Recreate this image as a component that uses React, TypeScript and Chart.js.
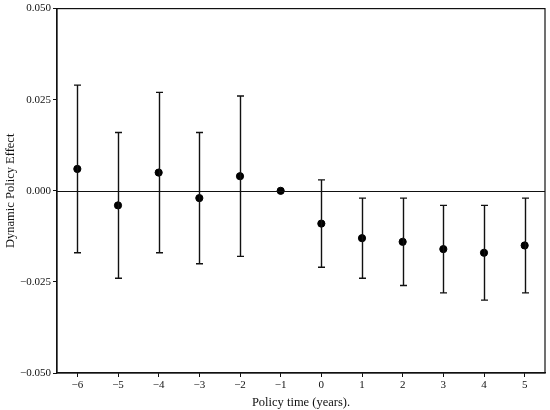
import React, { useEffect, useRef } from "react";
import { Chart, registerables } from "chart.js";

Chart.register(...registerables);

const periods = [-6, -5, -4, -3, -2, -1, 0, 1, 2, 3, 4, 5];
const estimates = [0.006, -0.004, 0.005, -0.002, 0.004, 0.0, -0.009, -0.013, -0.014, -0.016, -0.017, -0.015];
const upperBounds = [0.029, 0.016, 0.027, 0.016, 0.026, null, 0.003, -0.002, -0.002, -0.004, -0.004, -0.002];
const lowerBounds = [-0.017, -0.024, -0.017, -0.02, -0.018, null, -0.021, -0.024, -0.026, -0.028, -0.03, -0.028];
const yTicks = [-0.05, -0.025, 0, 0.025, 0.05];
const xTicks = periods;

const FONT = "'Liberation Serif', 'Times New Roman', serif";
const INK = "#111";

const fmtMinus = (s: string) => s.replace("-", "\u2212");

const errorBarPlugin = {
  id: "errorBars",
  afterDatasetsDraw(chart: any) {
    const { ctx, chartArea, scales } = chart;
    const xs = scales.x;
    const ys = scales.y;
    ctx.save();
    // frame
    ctx.strokeStyle = INK;
    ctx.lineWidth = 1.2;
    ctx.strokeRect(chartArea.left, chartArea.top, chartArea.right - chartArea.left, chartArea.bottom - chartArea.top);
    // zero line
    const y0 = Math.round(ys.getPixelForValue(0)) + 0.5;
    ctx.lineWidth = 1.2;
    ctx.beginPath();
    ctx.moveTo(chartArea.left, y0);
    ctx.lineTo(chartArea.right, y0);
    ctx.stroke();
    // error bars
    ctx.lineWidth = 1.4;
    for (let i = 0; i < periods.length; i++) {
      const hi = upperBounds[i];
      const lo = lowerBounds[i];
      if (hi === null || lo === null) continue;
      const px = Math.round(xs.getPixelForValue(periods[i])) + 0.5;
      const pyHi = ys.getPixelForValue(hi);
      const pyLo = ys.getPixelForValue(lo);
      const cap = 3.5;
      ctx.beginPath();
      ctx.moveTo(px, pyHi);
      ctx.lineTo(px, pyLo);
      ctx.moveTo(px - cap, pyHi);
      ctx.lineTo(px + cap, pyHi);
      ctx.moveTo(px - cap, pyLo);
      ctx.lineTo(px + cap, pyLo);
      ctx.stroke();
    }
    ctx.restore();
  },
};

export default function App() {
  const ref = useRef<HTMLCanvasElement | null>(null);
  useEffect(() => {
    document.body.style.margin = "0";
    const canvas = ref.current;
    if (!canvas) return;
    const chart = new Chart(canvas, {
      type: "scatter",
      data: {
        datasets: [
          {
            data: periods.map((p, i) => ({ x: p, y: estimates[i] })),
            backgroundColor: "#000",
            borderColor: "#000",
            pointRadius: 3.6,
            pointHoverRadius: 3.6,
          },
        ],
      },
      options: {
        animation: false,
        responsive: false,
        maintainAspectRatio: false,
        layout: { padding: { top: 8, right: 5, left: 0, bottom: 0 } },
        plugins: {
          legend: { display: false },
          tooltip: { enabled: false },
        },
        scales: {
          x: {
            type: "linear",
            min: -6.5,
            max: 5.5,
            afterBuildTicks: (scale: any) => {
              scale.ticks = xTicks.map((v) => ({ value: v }));
            },
            afterFit: (scale: any) => {
              scale.height = 37;
            },
            grid: { display: true, drawOnChartArea: false, drawTicks: true, tickLength: 4, color: INK, lineWidth: 1 },
            border: { display: true, color: INK, width: 1.2 },
            ticks: {
              color: INK,
              padding: 2,
              maxRotation: 0,
              autoSkip: false,
              font: { family: FONT, size: 11 },
              callback: (v: any) => fmtMinus(String(v)),
            },
            title: {
              display: true,
              text: "Policy time (years).",
              color: INK,
              font: { family: FONT, size: 12.5 },
              padding: { top: 1, bottom: 0 },
            },
          },
          y: {
            type: "linear",
            min: -0.05,
            max: 0.05,
            afterBuildTicks: (scale: any) => {
              scale.ticks = yTicks.map((v) => ({ value: v }));
            },
            afterFit: (scale: any) => {
              scale.width = 57;
            },
            grid: { display: true, drawOnChartArea: false, drawTicks: true, tickLength: 4, color: INK, lineWidth: 1 },
            border: { display: true, color: INK, width: 1.2 },
            ticks: {
              color: INK,
              padding: 2,
              autoSkip: false,
              font: { family: FONT, size: 11 },
              callback: (v: any) => fmtMinus(Number(v).toFixed(3)),
            },
            title: {
              display: true,
              text: "Dynamic Policy Effect",
              color: INK,
              font: { family: FONT, size: 12.5 },
              padding: { top: 3, bottom: 0 },
            },
          },
        },
      },
      plugins: [errorBarPlugin],
    });
    return () => chart.destroy();
  }, []);
  return (
    <div style={{ width: 550, height: 410 }}>
      <canvas ref={ref} width={550} height={410} style={{ width: 550, height: 410, display: "block" }} />
    </div>
  );
}
